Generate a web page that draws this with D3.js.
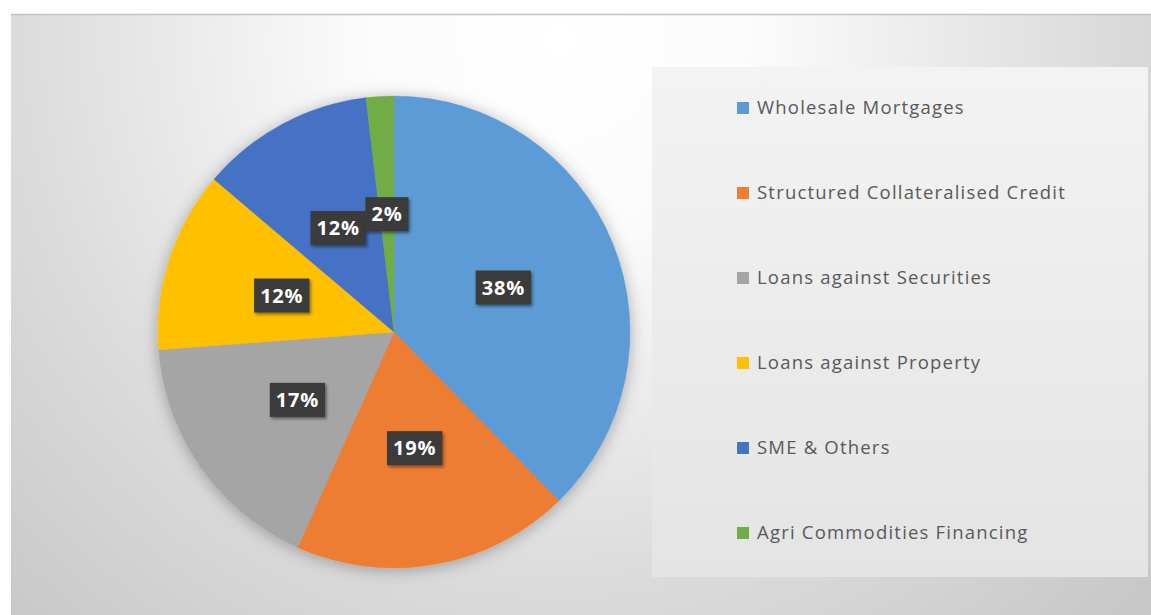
<!DOCTYPE html>
<html>
<head>
<meta charset="utf-8">
<script src="https://cdn.jsdelivr.net/npm/d3@7"></script>
<style>
  html, body { margin: 0; padding: 0; background: #ffffff; }
  svg { display: block; }
</style>
</head>
<body>
<svg id="chart" width="1151" height="615"></svg>
<script>
// ---- data ----
const categories = [
  "Wholesale Mortgages",
  "Structured Collateralised Credit",
  "Loans against Securities",
  "Loans against Property",
  "SME & Others",
  "Agri Commodities Financing"
];
const values = [37.7, 19.0, 17.1, 12.4, 11.9, 1.9];
const colors = ["#5B9BD5", "#ED7D31", "#A5A5A5", "#FFC000", "#4472C4", "#70AD47"];

// ---- layout ----
const W = 1151, H = 615;
const svg = d3.select("#chart");
const defs = svg.append("defs");

const bg = defs.append("radialGradient").attr("id", "bgGrad")
  .attr("gradientUnits", "userSpaceOnUse")
  .attr("cx", 560).attr("cy", 40).attr("r", 800);
bg.append("stop").attr("offset", 0).attr("stop-color", "#ffffff");
bg.append("stop").attr("offset", 0.25).attr("stop-color", "#fbfbfb");
bg.append("stop").attr("offset", 0.68).attr("stop-color", "#dbdbdb");
bg.append("stop").attr("offset", 1).attr("stop-color", "#c8c8c8");

const lg = defs.append("linearGradient").attr("id", "legGrad")
  .attr("x1", 0).attr("y1", 0).attr("x2", 0).attr("y2", 1);
lg.append("stop").attr("offset", 0).attr("stop-color", "#f3f3f3");
lg.append("stop").attr("offset", 1).attr("stop-color", "#e4e4e4");

const pieShadow = defs.append("filter").attr("id", "pieShadow")
  .attr("x", "-20%").attr("y", "-20%").attr("width", "140%").attr("height", "140%");
pieShadow.append("feDropShadow").attr("dx", 0).attr("dy", 2)
  .attr("stdDeviation", 8).attr("flood-color", "#000").attr("flood-opacity", 0.3);

const boxShadow = defs.append("filter").attr("id", "boxShadow")
  .attr("x", "-30%").attr("y", "-30%").attr("width", "160%").attr("height", "160%");
boxShadow.append("feDropShadow").attr("dx", 1.5).attr("dy", 2)
  .attr("stdDeviation", 1.5).attr("flood-color", "#000").attr("flood-opacity", 0.45);

// chart area
svg.append("rect").attr("x", 11).attr("y", 14).attr("width", W - 11).attr("height", H - 14)
  .attr("fill", "url(#bgGrad)");
svg.append("line").attr("x1", 11).attr("x2", W).attr("y1", 14.5).attr("y2", 14.5)
  .attr("stroke", "#c4c4c4").attr("stroke-width", 1.5);

// pie
const cx = 394, cy = 332, R = 236;
const pie = d3.pie().sort(null).value(d => d.v);
const data = categories.map((c, i) => ({ c, v: values[i], color: colors[i] }));
const arcs = pie(data);
const arc = d3.arc().innerRadius(0).outerRadius(R);

const g = svg.append("g").attr("transform", `translate(${cx},${cy})`);
g.append("g").attr("filter", "url(#pieShadow)")
  .selectAll("path").data(arcs).join("path")
  .attr("d", arc)
  .attr("fill", d => d.data.color)
  .attr("stroke", d => d.data.color)
  .attr("stroke-width", 0.5);

// labels
const total = d3.sum(values);
const fmt = d3.format(".0%");
const lab = g.append("g").selectAll("g").data(arcs).join("g")
  .attr("transform", d => `translate(${arc.centroid(d)})`);
lab.append("rect").attr("class", "lbox")
  .attr("fill", "#3a3a3a").attr("filter", "url(#boxShadow)");
lab.append("text")
  .attr("text-anchor", "middle").attr("dy", "0.36em")
  .attr("font-family", "'Open Sans', sans-serif").attr("font-weight", "bold")
  .attr("font-size", 20).attr("letter-spacing", "0.8px")
  .attr("fill", "#ffffff")
  .text(d => fmt(d.data.v / total));
lab.each(function () {
  const t = d3.select(this).select("text").node().getBBox();
  const w = t.width + 12, h = 34;
  d3.select(this).select("rect")
    .attr("x", -w / 2).attr("y", -h / 2).attr("width", w).attr("height", h);
});

// legend
const legX = 652, legY = 67, legW = 496, legH = 510;
svg.append("rect").attr("x", legX).attr("y", legY).attr("width", legW).attr("height", legH)
  .attr("fill", "url(#legGrad)");
const ly = d3.scalePoint().domain(categories).range([108, 533]);
const leg = svg.append("g").selectAll("g").data(data).join("g")
  .attr("transform", d => `translate(737,${ly(d.c)})`);
leg.append("rect").attr("x", 0).attr("y", -6).attr("width", 12).attr("height", 12)
  .attr("fill", d => d.color);
leg.append("text").attr("x", 20).attr("dy", "0.35em")
  .attr("font-family", "'Open Sans', sans-serif").attr("font-size", 18.5)
  .attr("letter-spacing", "1.2px")
  .attr("fill", "#595959")
  .text(d => d.c);
</script>
</body>
</html>
